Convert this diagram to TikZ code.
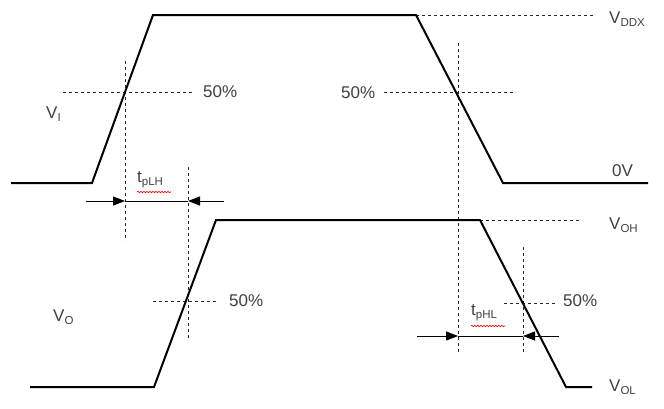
\documentclass[tikz,border=0pt]{standalone}
\usepackage{fontspec}
\setmainfont{Liberation Sans}
\usetikzlibrary{arrows.meta,decorations.pathmorphing}
\definecolor{txt}{HTML}{404040}
\newcommand{\sbs}[1]{\raisebox{-0.35ex}{\fontsize{11.5}{11.5}\selectfont #1}}
\tikzset{
  wave/.style={line width=2pt, line join=miter},
  guide/.style={line width=0.8pt, dash pattern=on 3pt off 3pt, black!85},
  dimline/.style={line width=1pt, -{Triangle[length=12pt,width=9pt]}},
  lbl/.style={text=txt, font=\fontsize{17}{17}\selectfont, inner sep=0pt, anchor=west},
  squig/.style={red, line width=0.6pt, decorate, decoration={snake, amplitude=0.8pt, segment length=3pt}}
}
\begin{document}
\begin{tikzpicture}[x=1pt,y=-1pt]
\useasboundingbox (0,0) rectangle (664,408);
% guides
\draw[guide] (416,15) -- (594,15);
\draw[guide] (63,92) -- (193,92);
\draw[guide] (384,92) -- (513,92);
\draw[guide] (125,61) -- (125,241);
\draw[guide] (188,167) -- (188,339);
\draw[guide] (458,43) -- (458,353);
\draw[guide] (480,220) -- (579,220);
\draw[guide] (153,301) -- (218,301);
\draw[guide] (504,303) -- (557,303);
\draw[guide] (523,247) -- (523,353);
% waveforms
\draw[wave] (11,183) -- (92,183) -- (153,15) -- (416,15) -- (503,183) -- (648,183);
\draw[wave] (30,387) -- (154,387) -- (216,220) -- (480,220) -- (566,387) -- (592,387);
% dimension arrows
\coordinate (a1) at (86,201); \coordinate (a2) at (125,201);
\coordinate (b1) at (224,201); \coordinate (b2) at (188,201);
\draw[line width=1pt] (a2) -- (b2);
\draw[dimline] (a1) -- (a2);
\draw[dimline] (b1) -- (b2);
\coordinate (c1) at (417,336); \coordinate (c2) at (458,336);
\coordinate (d1) at (559,336); \coordinate (d2) at (523,336);
\draw[line width=1pt] (c2) -- (d2);
\draw[dimline] (c1) -- (c2);
\draw[dimline] (d1) -- (d2);
% labels
\node[lbl] (p1) at (203,92) {50\%};
\node[lbl] (p2) at (341,93) {50\%};
\node[lbl] (p3) at (229,301) {50\%};
\node[lbl] (p4) at (563,301) {50\%};
\node[lbl] (vddx) at (609,19) {V\sbs{DDX}};
\node[lbl] (zero) at (612,171) {0V};
\node[lbl] (vi) at (46,114) {V\sbs{I}};
\node[lbl] (vo) at (53,317) {V\sbs{O}};
\node[lbl] (voh) at (609,225) {V\sbs{OH}};
\node[lbl] (vol) at (609,387) {V\sbs{OL}};
\node[lbl] (tplh) at (137,180) {t\sbs{pLH}};
\node[lbl] (tphl) at (471,313) {t\sbs{pHL}};
\draw[squig] (137,192) -- (171,192);
\draw[squig] (471,326) -- (505,326);
\end{tikzpicture}
\end{document}
